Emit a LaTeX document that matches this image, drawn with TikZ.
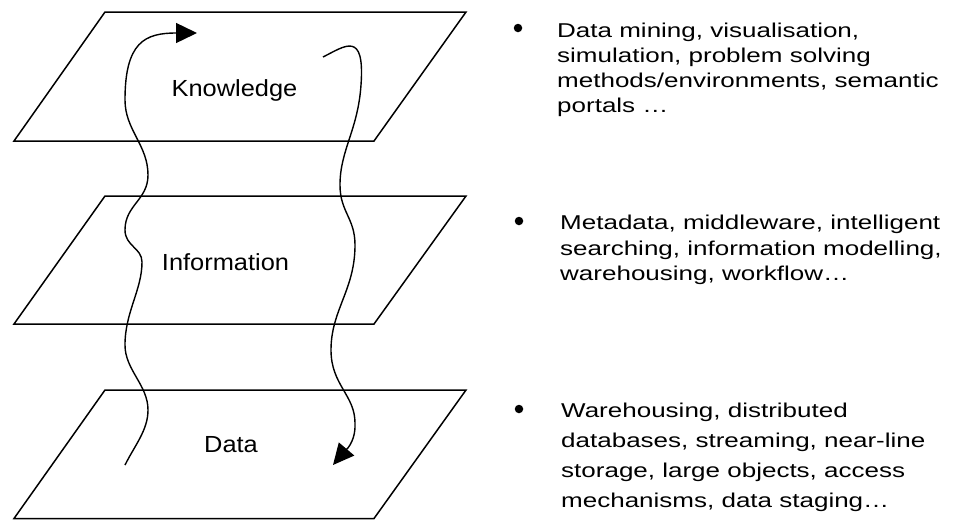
\documentclass[tikz,border=0pt]{standalone}
\usepackage{fontspec}
\setmainfont{Liberation Sans}
\newfontfamily\labfont[FakeStretch=1.09]{Liberation Sans}
\newfontfamily\txtfont[FakeStretch=1.3]{Liberation Sans}
\usetikzlibrary{arrows.meta}
\tikzset{
  plane/.style={draw=black, line width=1.5pt, line join=miter},
  lab/.style={font=\labfont\fontsize{23.3}{28}\selectfont, inner sep=0pt, anchor=base},
  txtA/.style={font=\txtfont\fontsize{20}{25.2}\selectfont, inner sep=0pt, anchor=base west, align=left},
  txtB/.style={font=\txtfont\fontsize{20}{25.5}\selectfont, inner sep=0pt, anchor=base west, align=left},
  txtC/.style={font=\txtfont\fontsize{20}{30.3}\selectfont, inner sep=0pt, anchor=base west, align=left},
  bullet/.style={circle, fill=black, inner sep=0pt, minimum size=8.5pt},
  flow/.style={line width=1.4pt, -{Triangle[length=21pt,width=20pt]}}
}
\begin{document}
\begin{tikzpicture}[x=1pt,y=-1pt]
\useasboundingbox (0,0) rectangle (955,520);
% planes
\draw[plane] (105,12) -- (466,12) -- (374,141) -- (14,141) -- cycle;
\draw[plane] (105,196) -- (466,196) -- (374,324) -- (14,324) -- cycle;
\draw[plane] (105,390) -- (466,390) -- (374,518.5) -- (14,518.5) -- cycle;
% labels
\node[lab] (know) at (234.5,96.7) {Knowledge};
\node[lab] (info) at (225.5,270) {Information};
\node[lab] (data) at (231,452) {Data};
% flow arrows
\coordinate (lstart) at (125,465);
\coordinate (lend) at (197,33);
\coordinate (rstart) at (323,57);
\coordinate (rend) at (333,465);
\draw[flow] (lstart)
  .. controls (135,445) and (148,430) .. (148,410)
  .. controls (148,385) and (125,370) .. (125,345)
  .. controls (125,312) and (142,290) .. (142,262)
  .. controls (142,248) and (125,246) .. (125,230)
  .. controls (125,205) and (148,200) .. (148,175)
  .. controls (148,145) and (125,130) .. (125,100)
  .. controls (125,42) and (145,33) .. (lend);
\draw[flow] (rstart)
  .. controls (345,46) and (365,30) .. (361,85)
  .. controls (358,130) and (340,150) .. (340,185)
  .. controls (340,212) and (355,218) .. (355,245)
  .. controls (355,290) and (331,310) .. (331,350)
  .. controls (331,385) and (355,395) .. (355,423)
  .. controls (356,443) and (344,452) .. (rend);
% bullets and text
\node[bullet] (b1) at (518,28) {};
\node[txtA] (t1) at (557,112.6) {Data mining, visualisation,\\simulation, problem solving\\methods/environments, semantic\\portals …};
\node[bullet] (b2) at (519,221) {};
\node[txtB] (t2) at (560,280.5) {Metadata, middleware, intelligent\\searching, information modelling,\\warehousing, workflow…};
\node[bullet] (b3) at (519,409) {};
\node[txtC] (t3) at (561,507.9) {Warehousing, distributed\\databases, streaming, near-line\\storage, large objects, access\\mechanisms, data staging…};
\end{tikzpicture}
\end{document}
